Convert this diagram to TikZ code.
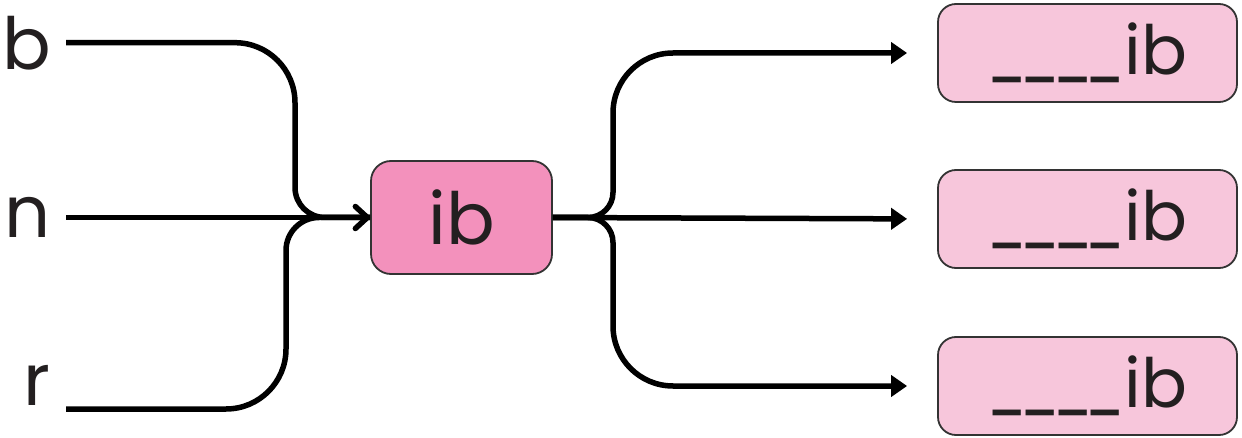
\documentclass[tikz,border=0pt]{standalone}
\usepackage{fontspec}
\setmainfont{Poppins}
\usetikzlibrary{arrows.meta}
\definecolor{rootpink}{HTML}{F391BC}
\definecolor{wordpink}{HTML}{F7C6DB}
\definecolor{inkgray}{HTML}{231F20}
\tikzset{
  flow line/.style={line width=5.5pt,black},
  merge arrow/.style={flow line,-{Straight Barb[length=12pt,width=22pt,round]}},
  split arrow/.style={flow line,-{Triangle[length=16pt,width=21pt]},shorten >=30pt},
  box text/.style={font=\fontsize{72}{80}\selectfont,text=inkgray},
  root box/.style={box text,draw=black!80,line width=1.8pt,fill=rootpink,rounded corners=20pt,minimum width=181pt,minimum height=113pt},
  word box/.style={box text,font=\fontsize{68}{76}\selectfont,draw=black!80,line width=1.8pt,fill=wordpink,rounded corners=18pt,minimum width=299pt,minimum height=98pt},
  letter label/.style={box text,inner xsep=15pt,inner ysep=0pt,anchor=east},
}
\newcommand{\blankline}{\scalebox{0.78}[1]{\_\kern-8pt\_\kern-8pt\_\kern-8pt\_}}
\begin{document}
\begin{tikzpicture}[x=1pt,y=-1pt]
\useasboundingbox (0,0) rectangle (1242,438);
% letters on the left
\node[letter label] (lb) at (66,42.7) {b};
\node[letter label] (ln) at (66,217.5) {n};
\node[letter label] (lr) at (66,385) {r};
\node[root box] (ib) at (461.5,217.5) {ib};
\foreach \i/\y in {1/53,2/219,3/386} {
  \node[word box] (w\i) at (1087.5,\y) {\blankline ib};
}
% merging into the root
\draw[flow line] (lb.east) [rounded corners=60pt] -- (295,42.7) [rounded corners=30pt] -- (295,217.5) -- (ib.west);
\draw[flow line] ([yshift=-24pt]lr.east) [rounded corners=60pt] -- (286,409) [rounded corners=33pt] -- (286,217.5) -- (ib.west);
\draw[merge arrow] (ln.east) -- (ib.west);
% splitting to the words
\draw[split arrow] (ib.east) [rounded corners=25pt] -- (613,217.5) [rounded corners=60pt] -- (613,53) -- (w1.west);
\draw[split arrow] (ib.east) -- (w2.west);
\draw[split arrow] (ib.east) [rounded corners=25pt] -- (613,217.5) [rounded corners=60pt] -- (613,386) -- (w3.west);
\end{tikzpicture}
\end{document}
